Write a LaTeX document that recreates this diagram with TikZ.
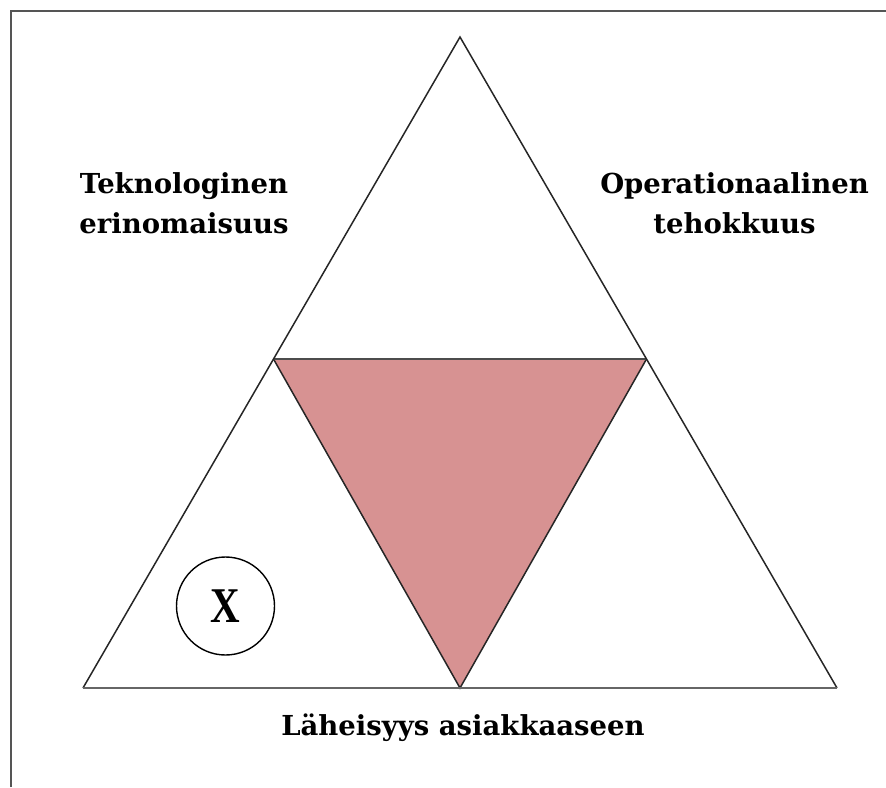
\documentclass[tikz,border=0pt]{standalone}
\usepackage{fontspec}
\setmainfont{DejaVu Serif}
\newfontfamily\xfont{Liberation Serif}
\definecolor{pinkfill}{RGB}{215,146,146}
\definecolor{framegray}{RGB}{85,85,85}
\begin{document}
\begin{tikzpicture}[x=1pt,y=-1pt,
  edge/.style={line width=1.5pt,draw=black!85,line join=miter},
  basel/.style={line width=2.6pt,draw=black!60},
  lbl/.style={font=\fontsize{27.5}{40}\selectfont\bfseries,align=center,inner sep=0pt,anchor=base}]
\useasboundingbox (0,0) rectangle (886,787);
% frame (cropped at right and bottom)
\draw[line width=2pt,draw=framegray] (11,787) -- (11,11) -- (886,11);
% corners
\coordinate (A) at (460,37);
\coordinate (B) at (83,688);
\coordinate (C) at (837,688);
\coordinate (L) at (273.5,359);
\coordinate (R) at (646.5,359);
\coordinate (M) at (460,688);
% inner shaded triangle
\fill[pinkfill] (L) -- (R) -- (M) -- cycle;
\draw[edge] (L) -- (M) -- (R);
\draw[line width=1.8pt,draw=black!70] (L) -- (R);
% outer triangle
\draw[edge] (B) -- (A) -- (C);
\draw[basel] (B) -- (C);
% circle with X
\node[draw,circle,line width=1.4pt,minimum size=98pt,inner sep=0pt] (circ) at (225.5,606) {};
\node[inner sep=0pt,font=\xfont\fontsize{50}{50}\selectfont\bfseries,xscale=0.82] (xmark) at (circ.center) {X};
% labels
\node[lbl] (tek) at (184,233) {Teknologinen\\erinomaisuus};
\node[lbl] (ope) at (734.5,233) {Operationaalinen\\tehokkuus};
\node[lbl] (lah) at (463,735) {Läheisyys asiakkaaseen};
\end{tikzpicture}
\end{document}
